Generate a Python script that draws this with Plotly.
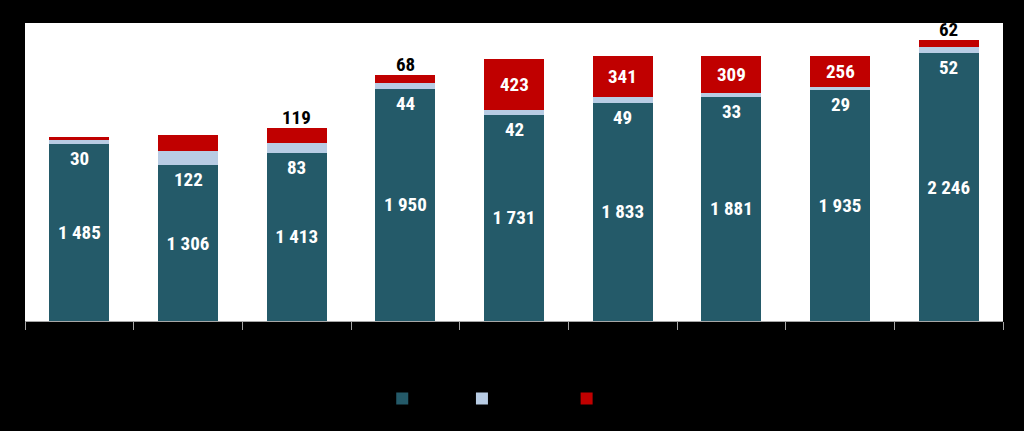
import plotly.graph_objects as go

categories = ["2014", "2015", "2016", "2017", "2018", "2019", "2020", "2021", "2022"]
series_names = ["Driften", "Ekstrautgift", "Investering"]
dark_vals = [1485, 1306, 1413, 1950, 1731, 1833, 1881, 1935, 2246]
light_vals = [30, 122, 83, 44, 42, 49, 33, 29, 52]
red_vals = [25, 132, 119, 68, 423, 341, 309, 256, 62]
red_label_inside = [None, None, False, False, True, True, True, True, False]

DARK = "#245A69"
LIGHT = "#B8CCE4"
RED = "#C00000"
FONT = "Liberation Sans Narrow, Arial Narrow, Roboto Condensed, Arial, sans-serif"


def fmt(v):
    return f"{v:,}".replace(",", " ")


fig = go.Figure()
fig.add_bar(x=categories, y=dark_vals, name=series_names[0], marker_color=DARK,
            marker_line_width=0,
            text=[fmt(v) for v in dark_vals], texttemplate="<b>%{text}</b>",
            textposition="inside", insidetextanchor="middle",
            textfont=dict(color="white", size=19, family=FONT), textangle=0)
fig.add_bar(x=categories, y=light_vals, name=series_names[1], marker_color=LIGHT,
            marker_line_width=0, textposition="none")
fig.add_bar(x=categories, y=red_vals, name=series_names[2], marker_color=RED,
            marker_line_width=0, textposition="none")

annotations = []
for i, c in enumerate(categories):
    d, l, r = dark_vals[i], light_vals[i], red_vals[i]
    # on a category axis, annotations are placed by category index
    annotations.append(dict(x=i, y=d, text=f"<b>{fmt(l)}</b>", showarrow=False,
                            yanchor="top", yshift=-1,
                            font=dict(color="white", size=19, family=FONT)))
    flag = red_label_inside[i]
    if flag is True:
        annotations.append(dict(x=i, y=d + l + r / 2, text=f"<b>{fmt(r)}</b>", showarrow=False,
                                yanchor="middle",
                                font=dict(color="white", size=19, family=FONT)))
    elif flag is False:
        annotations.append(dict(x=i, y=d + l + r, text=f"<b>{fmt(r)}</b>", showarrow=False,
                                yanchor="bottom", yshift=-3,
                                font=dict(color="black", size=19, family=FONT)))

fig.update_layout(
    barmode="stack",
    bargap=0.448,
    width=1024, height=431,
    margin=dict(l=25, r=21, t=23, b=109.5),
    paper_bgcolor="black",
    plot_bgcolor="white",
    showlegend=True,
    legend=dict(orientation="h", x=0.512, xanchor="center", y=-0.26, yanchor="middle",
                font=dict(color="black", size=13, family=FONT), bgcolor="rgba(0,0,0,0)",
                traceorder="normal"),
    annotations=annotations,
    font=dict(family=FONT),
)
fig.update_xaxes(type="category", range=[-0.5, len(categories) - 0.5],
                 showline=True, linecolor="#A6A6A6", linewidth=1,
                 ticks="outside", tickson="boundaries", ticklen=8, tickcolor="#A6A6A6",
                 tickfont=dict(color="black", size=13), showgrid=False)
fig.update_yaxes(range=[0, 2500], visible=False, showgrid=False)

fig.write_html("out.html")
